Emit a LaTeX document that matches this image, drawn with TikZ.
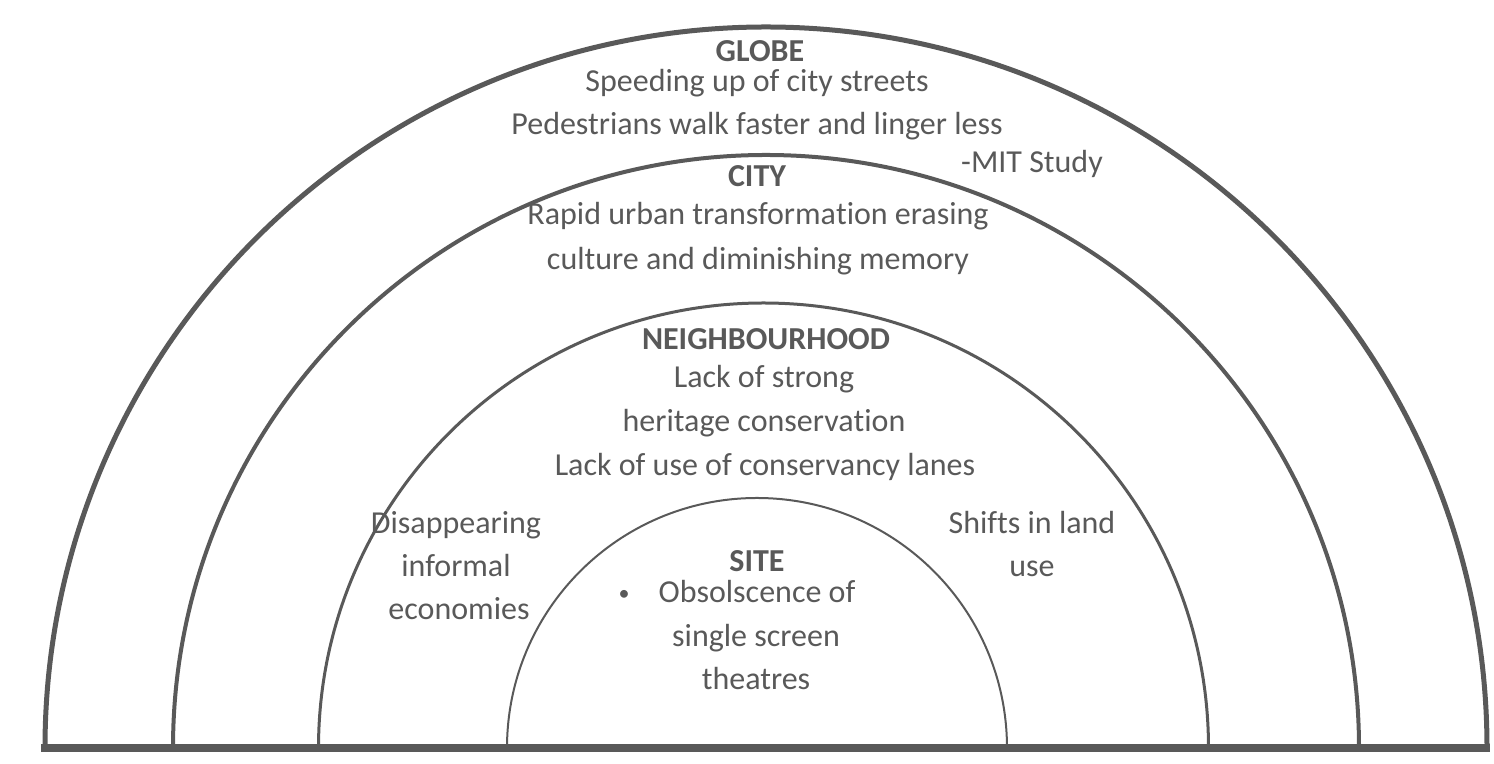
\documentclass[tikz,border=0pt]{standalone}
\usepackage{fontspec}
\setmainfont{Carlito}[RawFeature={-liga;-clig;-dlig;-calt}]
\usepackage{tikz}
\definecolor{gry}{HTML}{595959}
\newcommand{\nolig}{\kern0pt}

\begin{document}
\begin{tikzpicture}[x=0.5pt,y=0.5pt,
  txt/.style={text=gry,anchor=base,inner sep=0pt,font=\fontsize{16}{19}\selectfont},
  hd/.style={txt,font=\fontsize{16}{19}\selectfont\bfseries}]
  \useasboundingbox (0,0) rectangle (1494,764);
  % rings
  \draw[gry,line width=2.5pt] (45,16) arc (180:0:721);
  \draw[gry,line width=2pt] (173,16) arc (180:0:593);
  \draw[gry,line width=1.5pt] (318.5,16) arc (180:0:445);
  \draw[gry,line width=1pt] (507,16) arc (180:0:250);
  \draw[gry,line width=4pt] (41,16) -- (1490,16);
  % globe
  \node[hd] (globe) at (760,702) {GLOBE};
  \node[txt] (globe1) at (757,672) {Speeding up of city streets};
  \node[txt] (globe2) at (757,629) {Pedestrians walk faster and linger less};
  \node[txt] (mit) at (1032,591) {-MIT Study};
  % city
  \node[hd] (city) at (757,577) {CITY};
  \node[txt] (city1) at (758,539) {Rapid urban transforma\nolig tion erasing};
  \node[txt] (city2) at (758,494) {culture and diminishing memory};
  % neighbourhood
  \node[hd] (nbh) at (766,414) {NEIGHBOURHOOD};
  \node[txt] (nbh1) at (764,376) {Lack of strong};
  \node[txt] (nbh2) at (764,332) {heritage conserva\nolig tion};
  \node[txt] (nbh3) at (765,288) {Lack of use of conservancy lanes};
  \node[txt] (left1) at (456,230) {Disappearing};
  \node[txt] (left2) at (456,187) {informal};
  \node[txt] (left3) at (459,144) {economies};
  \node[txt] (right1) at (1032,230) {Shi\nolig f\nolig ts in land};
  \node[txt] (right2) at (1032,187) {use};
  % site
  \node[hd] (site) at (757,192) {SITE};
  \node[txt,font=\fontsize{11}{13}\selectfont] (bul) at (624,163) {\textbullet};
  \node[txt] (site1) at (757,161) {Obsolscence of};
  \node[txt] (site2) at (756,117) {single screen};
  \node[txt] (site3) at (756,74) {theatres};
\end{tikzpicture}
\end{document}
